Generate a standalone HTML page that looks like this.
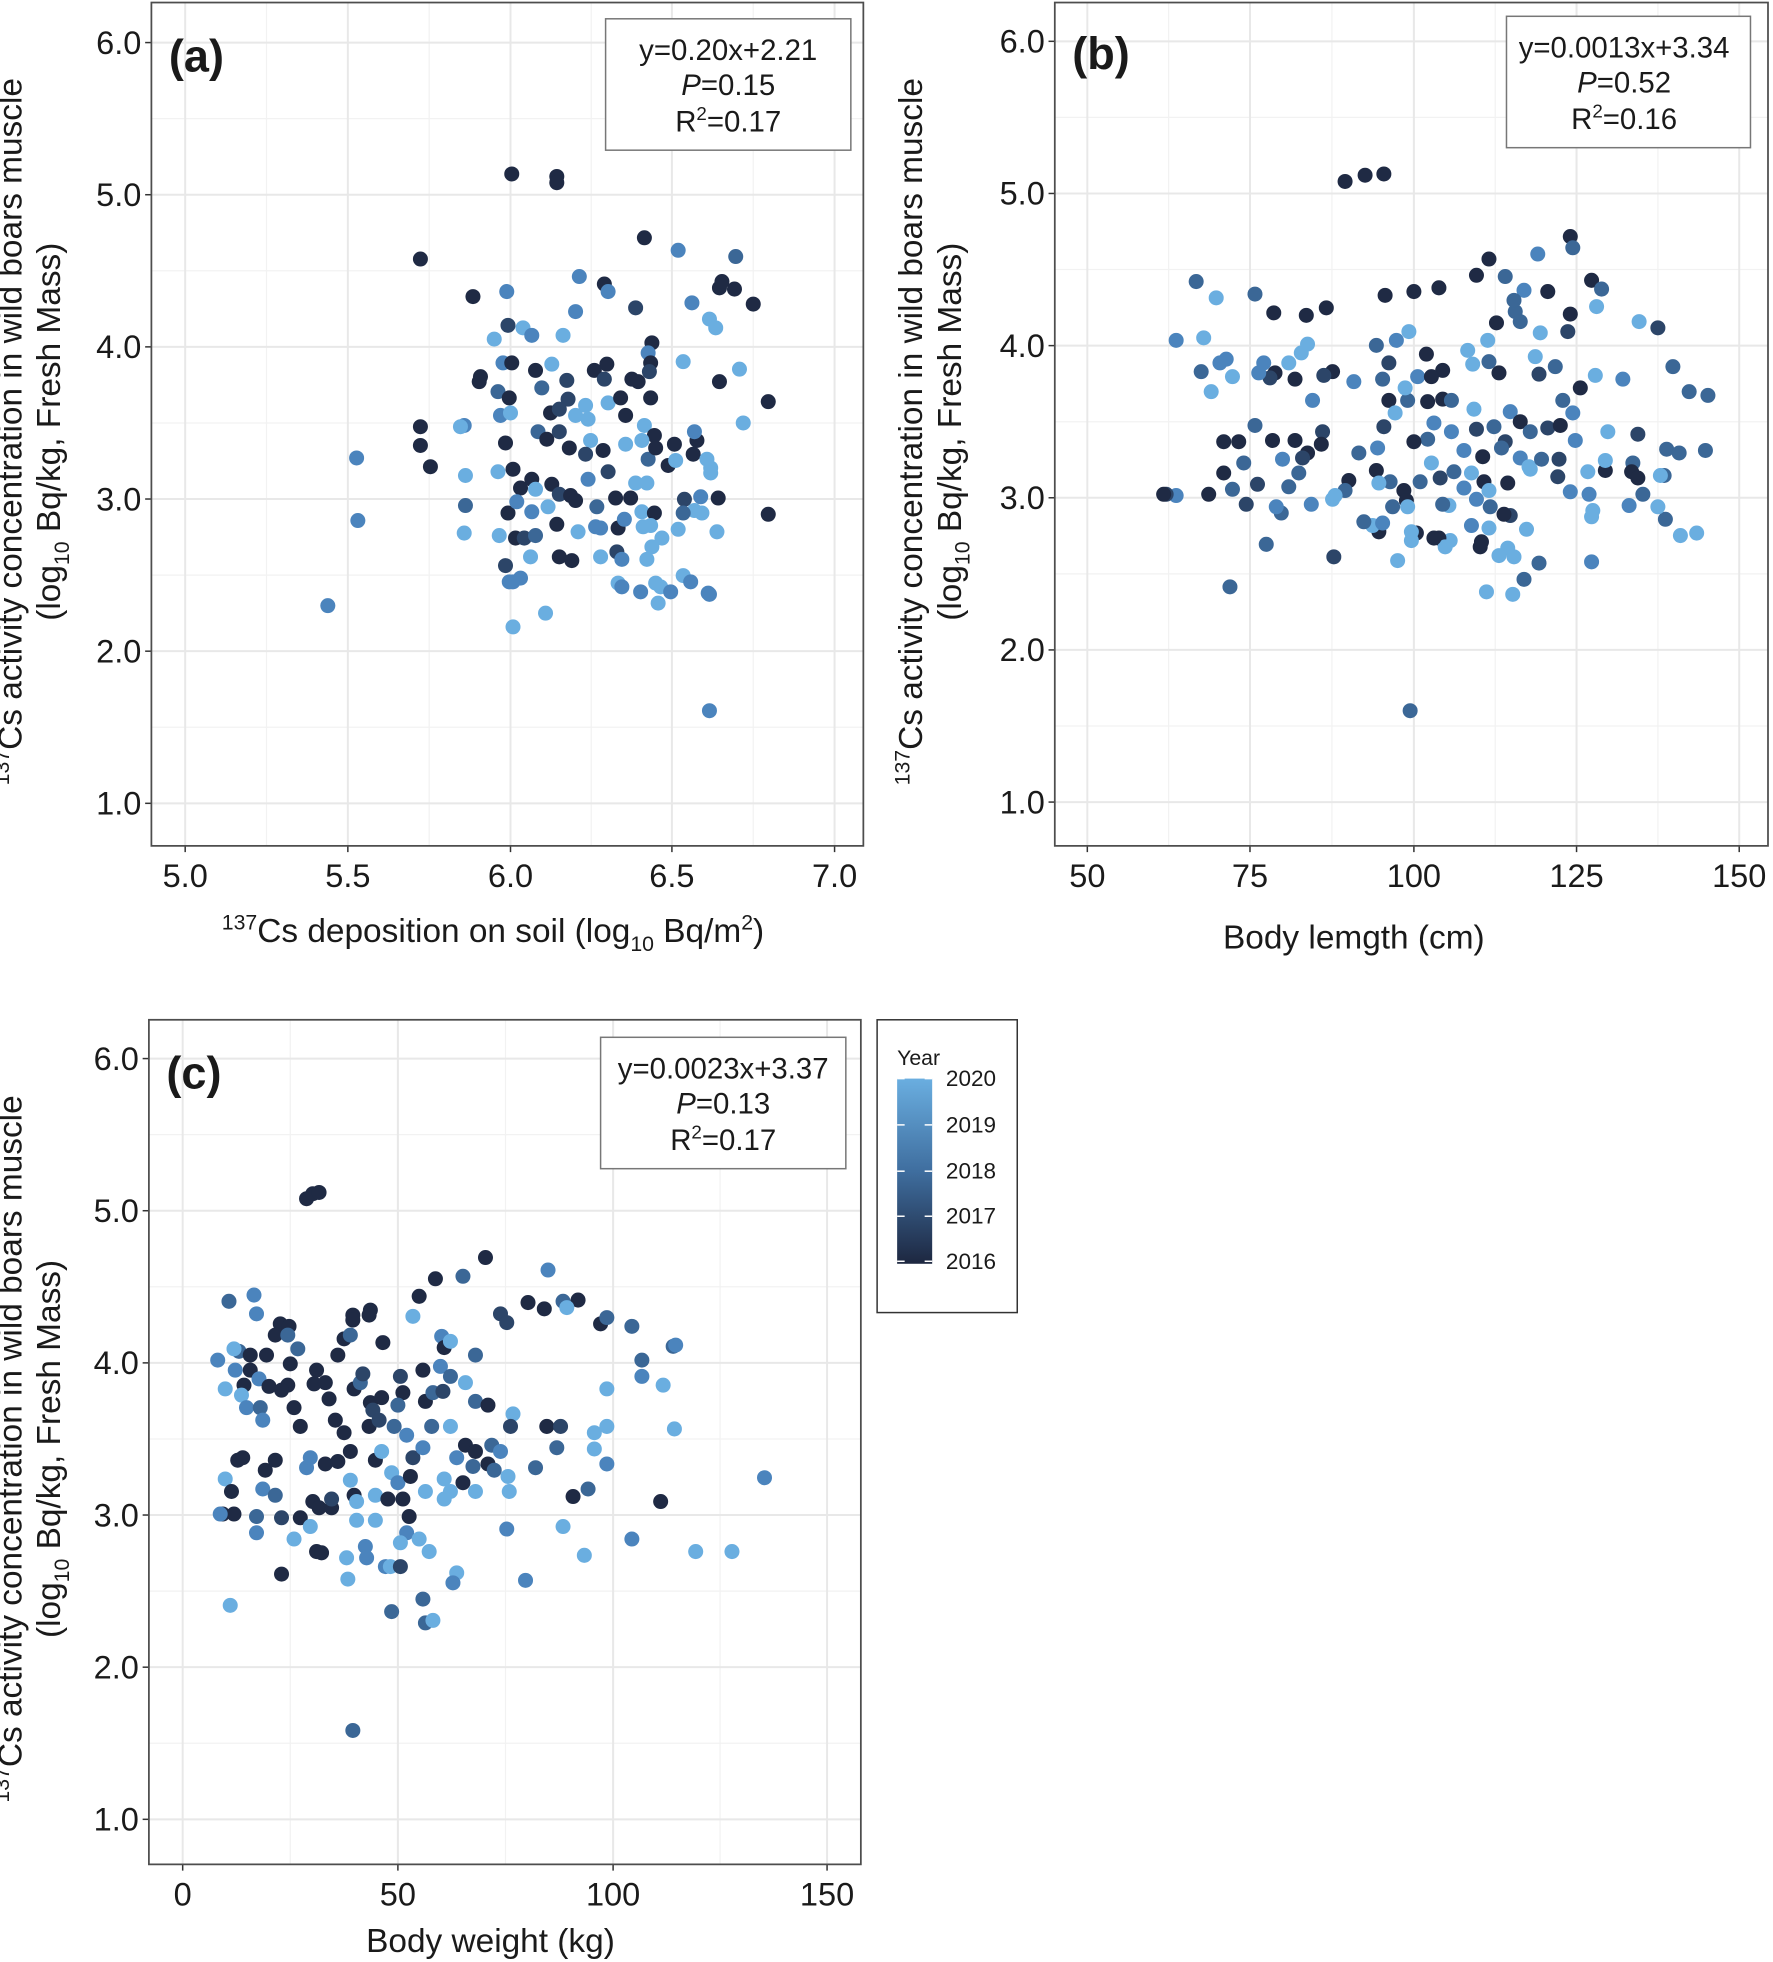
<!DOCTYPE html>
<html><head><meta charset="utf-8"><style>
html,body{margin:0;padding:0;background:#fff;}
svg{display:block;}
text{font-family:"Liberation Sans",Arial,sans-serif;fill:#1a1a1a;}
</style></head><body>
<svg id="s" width="1773" height="1962" viewBox="0 0 1417 1568" xmlns="http://www.w3.org/2000/svg">
<defs><linearGradient id="g" x1="0" y1="0" x2="0" y2="1"><stop offset="0" stop-color="#6aaee0"/><stop offset="0.5" stop-color="#3f6e9f"/><stop offset="1" stop-color="#1d2740"/></linearGradient></defs>
<g id="grid"></g><g id="pts"></g>
<g id="txt">
<text x="135" y="57" font-size="36" font-weight="bold">(a)</text>
<rect x="484" y="15" width="196" height="105" fill="#fff" stroke="#777" stroke-width="1.2"/>
<text x="582" y="48" font-size="23.5" text-anchor="middle">y=0.20x+2.21</text>
<text x="582" y="76" font-size="23.5" text-anchor="middle"><tspan font-style="italic">P</tspan>=0.15</text>
<text x="582" y="105" font-size="23.5" text-anchor="middle">R<tspan font-size="15" dy="-9">2</tspan><tspan dy="9">=0.17</tspan></text>
<text x="394" y="753" font-size="26.7" text-anchor="middle"><tspan font-size="17" dy="-10">137</tspan><tspan dy="10">Cs deposition on soil (log</tspan><tspan font-size="17" dy="7">10</tspan><tspan dy="-7"> Bq/m</tspan><tspan font-size="17" dy="-10">2</tspan><tspan dy="10">)</tspan></text>
<text x="857" y="55" font-size="36" font-weight="bold">(b)</text>
<rect x="1204" y="13" width="195" height="105" fill="#fff" stroke="#777" stroke-width="1.2"/>
<text x="1298" y="46" font-size="23.5" text-anchor="middle">y=0.0013x+3.34</text>
<text x="1298" y="74" font-size="23.5" text-anchor="middle"><tspan font-style="italic">P</tspan>=0.52</text>
<text x="1298" y="103" font-size="23.5" text-anchor="middle">R<tspan font-size="15" dy="-9">2</tspan><tspan dy="9">=0.16</tspan></text>
<text x="1082" y="758" font-size="26.7" text-anchor="middle">Body lemgth (cm)</text>
<text x="133" y="870" font-size="36" font-weight="bold">(c)</text>
<rect x="480" y="829" width="196" height="105" fill="#fff" stroke="#777" stroke-width="1.2"/>
<text x="578" y="862" font-size="23.5" text-anchor="middle">y=0.0023x+3.37</text>
<text x="578" y="890" font-size="23.5" text-anchor="middle"><tspan font-style="italic">P</tspan>=0.13</text>
<text x="578" y="919" font-size="23.5" text-anchor="middle">R<tspan font-size="15" dy="-9">2</tspan><tspan dy="9">=0.17</tspan></text>
<text x="392" y="1560" font-size="26.7" text-anchor="middle">Body weight (kg)</text>
<rect x="701" y="815" width="112" height="234" fill="#fff" stroke="#333" stroke-width="1.2"/>
<text x="717" y="851" font-size="17">Year</text>
<rect x="717" y="862" width="28" height="148" fill="url(#g)"/>
<g stroke="#fff" stroke-width="1.2">
<line x1="717" y1="862" x2="723" y2="862"/><line x1="739" y1="862" x2="745" y2="862"/>
<line x1="717" y1="899" x2="723" y2="899"/><line x1="739" y1="899" x2="745" y2="899"/>
<line x1="717" y1="936" x2="723" y2="936"/><line x1="739" y1="936" x2="745" y2="936"/>
<line x1="717" y1="972" x2="723" y2="972"/><line x1="739" y1="972" x2="745" y2="972"/>
<line x1="717" y1="1008" x2="723" y2="1008"/><line x1="739" y1="1008" x2="745" y2="1008"/>
</g>
<text x="756" y="868" font-size="18">2020</text>
<text x="756" y="905" font-size="18">2019</text>
<text x="756" y="942" font-size="18">2018</text>
<text x="756" y="978" font-size="18">2017</text>
<text x="756" y="1014" font-size="18">2016</text>
</g>
</svg>
<script>
var NS="http://www.w3.org/2000/svg",grid=document.getElementById('grid'),pts=document.getElementById('pts'),txt=document.getElementById('txt');
function el(p,t,a,s){var e=document.createElementNS(NS,t);for(var k in a)e.setAttribute(k,a[k]);if(s!==undefined)e.textContent=s;p.appendChild(e);return e;}
function ylabel(cx,cy){
 var t=el(txt,'text',{transform:'translate('+cx+','+cy+') rotate(-90)','font-size':26.7,'text-anchor':'middle'});
 t.innerHTML='<tspan font-size="17" dy="-10">137</tspan><tspan dy="10">Cs activity concentration in wild boars muscle</tspan>';
 var t2=el(txt,'text',{transform:'translate('+(cx+31)+','+cy+') rotate(-90)','font-size':26.7,'text-anchor':'middle'});
 t2.innerHTML='(log<tspan font-size="17" dy="7">10</tspan><tspan dy="-7"> Bq/kg, Fresh Mass)</tspan>';
}
function panel(L,R,T,B,xt,xlab,y6,y1){
 var py=(y1-y6)/5;
 for(var i=0;i<xt.length-1;i++){var m=(xt[i]+xt[i+1])/2;el(grid,'line',{x1:m,x2:m,y1:T,y2:B,stroke:'#f2f2f2','stroke-width':1});}
 for(var j=0;j<5;j++){var m=y6+py*(j+0.5);el(grid,'line',{x1:L,x2:R,y1:m,y2:m,stroke:'#f2f2f2','stroke-width':1});}
 var mm=y1+py/2; if(mm<B) el(grid,'line',{x1:L,x2:R,y1:mm,y2:mm,stroke:'#f2f2f2','stroke-width':1});
 xt.forEach(function(x,i){el(grid,'line',{x1:x,x2:x,y1:T,y2:B,stroke:'#e8e8e8','stroke-width':1.6});
  el(grid,'line',{x1:x,x2:x,y1:B,y2:B+5,stroke:'#333','stroke-width':1.2});
  el(txt,'text',{x:x,y:B+33,'font-size':26,'text-anchor':'middle'},xlab[i]);});
 for(var k=0;k<6;k++){var y=y6+py*k;el(grid,'line',{x1:L,x2:R,y1:y,y2:y,stroke:'#e8e8e8','stroke-width':1.6});
  el(grid,'line',{x1:L-5,x2:L,y1:y,y2:y,stroke:'#333','stroke-width':1.2});
  el(txt,'text',{x:L-8,y:y+9,'font-size':26,'text-anchor':'end'},(6-k).toFixed(1));}
 el(txt,'rect',{x:L,y:T,width:R-L,height:B-T,fill:'none',stroke:'#4d4d4d','stroke-width':1.4});
}
panel(121,690,2,676,[148,278,408,537,667],['5.0','5.5','6.0','6.5','7.0'],34,642);
panel(843,1413,2,676,[869,999,1130,1260,1390],['50','75','100','125','150'],33,641);
panel(119,688,815,1490,[146,318,490,661],['0','50','100','150'],846,1454);
ylabel(17,345);ylabel(737,345);ylabel(17,1158);
var C=['#1f2a44','#2c4568','#3b6796','#4b84bd','#6aaee0'];
var A=[[409,139,0],[445,141,0],[445,146,0],[515,190,0],[542,200,3],[588,205,2],[575,230,0],[463,221,3],[336,207,0],[378,237,0],[405,233,3],[483,227,0],[486,233,3],[460,249,3],[508,246,1],[553,242,3],[567,255,4],[572,262,4],[602,243,0],[577,225,0],[587,231,0],[406,260,1],[395,271,4],[418,262,4],[425,268,3],[450,268,4],[521,274,0],[518,282,3],[485,291,0],[520,290,0],[519,297,1],[546,289,4],[575,305,0],[591,295,4],[614,321,0],[384,301,0],[383,305,0],[402,290,3],[409,290,0],[428,296,0],[441,291,4],[453,304,1],[475,296,0],[483,303,1],[505,303,0],[510,305,0],[520,318,0],[398,313,2],[407,318,0],[433,310,2],[454,319,1],[468,324,4],[486,322,4],[496,318,0],[400,332,3],[408,330,4],[430,345,2],[440,330,0],[447,327,1],[460,332,4],[470,335,4],[500,332,0],[515,340,4],[523,348,0],[371,340,3],[336,341,0],[336,356,0],[368,341,4],[404,354,0],[437,351,0],[447,345,1],[455,358,0],[472,352,4],[468,363,1],[482,360,0],[500,355,4],[513,352,4],[518,367,2],[524,358,0],[539,355,0],[557,352,0],[554,363,0],[568,374,4],[555,345,3],[594,338,4],[344,373,0],[372,380,4],[398,377,4],[410,375,0],[416,390,0],[425,383,0],[428,391,4],[441,387,0],[447,395,1],[456,396,0],[470,383,3],[486,377,1],[492,398,0],[508,386,4],[517,386,4],[534,372,0],[540,368,4],[574,398,0],[565,367,4],[568,378,4],[406,410,0],[413,401,3],[425,409,3],[438,405,4],[460,400,0],[477,405,2],[480,422,3],[504,398,0],[513,409,4],[523,410,0],[547,399,1],[555,408,4],[614,411,0],[372,404,2],[399,428,4],[412,430,0],[419,430,1],[428,428,2],[445,419,0],[462,425,4],[476,421,3],[494,422,0],[499,415,3],[514,421,4],[520,420,4],[529,430,4],[546,410,2],[561,410,4],[404,452,1],[416,462,3],[424,445,4],[447,445,0],[457,448,0],[480,445,4],[493,441,1],[497,447,3],[517,447,4],[521,437,4],[542,423,4],[410,501,4],[436,490,4],[407,465,3],[410,465,3],[512,473,3],[524,466,4],[528,469,4],[494,466,4],[497,469,3],[536,473,3],[546,460,4],[552,465,3],[573,425,4],[566,474,3],[560,397,3],[285,366,3],[286,416,3],[262,484,3],[526,482,4],[567,475,3],[567,568,3],[371,426,4]];
var Bp=[[1106,139,0],[1091,140,0],[1075,145,0],[956,225,2],[972,238,4],[1003,235,2],[1018,250,0],[1044,252,0],[1060,246,0],[1150,230,0],[1130,233,0],[1107,236,0],[1190,207,0],[1180,220,0],[1203,221,2],[1229,203,3],[1255,189,0],[1257,198,2],[1272,224,0],[1276,245,4],[1280,231,2],[1255,251,0],[1237,233,0],[1218,232,3],[1211,249,2],[1215,257,2],[1210,240,2],[1231,266,4],[1253,265,1],[1310,257,4],[1325,262,1],[1337,293,2],[1297,303,3],[1275,300,4],[1263,310,0],[1249,320,2],[1230,299,1],[1227,285,4],[1243,293,2],[1196,258,0],[1189,272,4],[1190,289,2],[1198,298,0],[1177,291,4],[1153,296,0],[1153,319,0],[1160,320,2],[1141,321,0],[1133,301,3],[1144,301,0],[1125,320,2],[1105,303,2],[1110,320,0],[1082,305,3],[1065,297,0],[1058,300,1],[1049,320,3],[1035,303,0],[1019,298,0],[1015,302,1],[1006,298,3],[985,301,4],[980,287,3],[975,290,3],[960,297,2],[968,313,4],[1010,290,3],[1030,290,4],[1040,282,4],[1045,275,4],[1100,276,2],[1110,290,1],[1116,272,3],[1123,310,4],[1126,265,4],[1140,283,0],[1173,280,4],[1178,327,4],[1180,343,1],[1194,341,2],[1207,329,3],[1215,337,0],[1223,345,2],[1237,342,1],[1247,340,0],[1257,330,3],[1259,352,3],[1285,345,4],[1309,347,1],[1332,359,2],[1305,370,2],[1304,377,0],[1309,382,0],[1330,380,2],[1313,395,2],[1302,404,3],[1269,377,4],[1246,367,1],[1223,375,4],[1215,366,3],[1203,353,1],[1200,358,2],[1185,365,0],[1176,378,4],[1170,360,3],[1160,345,3],[1146,338,3],[1141,351,2],[1130,353,0],[1115,330,4],[1106,341,1],[1101,358,3],[1144,370,4],[1162,377,2],[1151,382,1],[1135,385,2],[1122,392,0],[1111,385,2],[1078,384,0],[1075,392,2],[1057,345,1],[1056,355,0],[1045,362,0],[1035,352,0],[1017,352,0],[1003,340,2],[990,353,0],[978,353,0],[978,378,0],[966,395,0],[994,370,2],[1025,367,3],[1041,366,1],[1005,387,1],[1030,389,2],[1038,378,2],[1067,396,4],[1086,362,2],[1100,376,0],[1102,386,4],[1124,400,0],[1125,405,4],[1158,404,4],[1153,403,2],[1170,390,3],[1180,399,3],[1186,385,0],[1190,392,4],[1191,405,2],[1205,386,0],[1222,373,4],[1232,367,2],[1245,381,1],[1255,393,3],[1270,395,3],[1283,376,0],[1283,368,4],[1327,380,4],[1342,362,2],[1356,426,4],[1343,428,4],[1331,415,2],[1325,405,4],[1273,408,4],[1272,413,4],[1220,423,4],[1207,412,1],[1190,422,4],[1176,420,3],[1159,432,4],[1150,430,0],[1132,426,0],[1128,425,4],[1102,425,0],[1097,420,4],[1113,405,2],[1105,418,3],[1090,417,2],[1065,399,4],[1048,403,3],[1024,410,2],[1020,405,3],[996,403,1],[985,391,2],[940,396,3],[1012,435,2],[1066,445,1],[1117,448,4],[1128,432,4],[1155,437,4],[1183,437,0],[1205,438,4],[1210,445,4],[1198,444,4],[1188,473,4],[1218,463,2],[1209,475,4],[1230,450,2],[1272,449,3],[1184,433,0],[1202,411,0],[1146,430,0],[983,469,2],[1127,568,2],[932,395,1],[940,272,3],[962,270,4],[930,395,0],[1363,360,2],[1350,313,2],[1365,316,2]];
var Cp=[[245,958,0],[250,954,0],[255,953,0],[348,1022,0],[335,1036,0],[388,1005,0],[370,1020,2],[438,1015,3],[462,1039,0],[422,1041,0],[435,1046,0],[450,1040,2],[282,1051,0],[296,1047,0],[295,1051,0],[282,1055,0],[183,1040,2],[203,1035,3],[205,1050,3],[224,1058,0],[220,1067,0],[231,1060,0],[230,1067,2],[174,1087,3],[191,1080,2],[187,1078,4],[200,1083,0],[213,1083,0],[232,1090,0],[238,1078,2],[270,1083,0],[275,1070,0],[280,1067,2],[306,1073,0],[330,1052,4],[353,1068,3],[355,1077,0],[360,1072,4],[380,1083,2],[400,1050,1],[405,1057,1],[453,1045,4],[480,1058,0],[485,1053,2],[505,1060,2],[513,1087,2],[538,1076,2],[188,1095,3],[200,1095,0],[207,1102,3],[195,1107,0],[215,1108,0],[230,1107,0],[225,1111,0],[251,1106,0],[253,1095,0],[260,1105,0],[283,1110,0],[288,1105,2],[290,1098,1],[320,1100,1],[338,1095,0],[352,1092,3],[360,1100,2],[372,1105,4],[322,1113,0],[340,1120,0],[346,1113,2],[354,1112,1],[296,1121,0],[298,1127,1],[305,1117,0],[318,1123,2],[380,1120,2],[390,1123,0],[410,1130,4],[408,1140,1],[437,1140,0],[485,1140,4],[475,1145,4],[513,1100,3],[485,1110,4],[448,1140,1],[530,1107,4],[180,1110,4],[193,1115,4],[197,1125,3],[208,1125,2],[210,1135,3],[235,1125,0],[240,1140,0],[263,1118,0],[268,1135,0],[275,1145,0],[280,1160,0],[295,1140,0],[303,1135,1],[315,1140,2],[325,1147,3],[330,1165,1],[338,1157,3],[345,1140,2],[360,1140,4],[365,1165,3],[372,1155,0],[380,1160,0],[390,1170,0],[393,1155,2],[395,1175,2],[400,1160,3],[406,1180,4],[428,1173,2],[445,1157,2],[475,1158,4],[485,1170,3],[190,1167,0],[194,1165,0],[212,1175,0],[220,1167,0],[245,1173,3],[248,1165,3],[260,1170,0],[270,1168,0],[300,1167,0],[305,1160,4],[313,1177,4],[318,1185,3],[328,1180,0],[355,1182,4],[360,1192,4],[370,1185,0],[378,1172,2],[180,1182,4],[185,1192,0],[210,1190,3],[220,1195,2],[250,1200,0],[255,1205,0],[265,1205,0],[283,1195,0],[280,1183,4],[285,1200,4],[300,1195,4],[310,1198,0],[322,1198,0],[327,1212,0],[340,1192,4],[355,1198,4],[380,1192,4],[407,1192,4],[458,1196,0],[470,1190,2],[178,1210,0],[187,1210,0],[205,1212,2],[225,1213,1],[240,1213,0],[265,1198,1],[285,1215,4],[300,1215,4],[325,1225,3],[248,1220,4],[235,1230,4],[205,1225,3],[253,1240,0],[257,1241,0],[292,1236,3],[320,1233,4],[335,1230,4],[343,1240,4],[405,1222,3],[450,1220,4],[467,1243,4],[505,1230,3],[556,1240,4],[277,1245,4],[293,1245,3],[308,1252,3],[278,1262,4],[312,1252,4],[320,1252,1],[365,1257,4],[362,1265,3],[225,1258,0],[338,1278,2],[420,1263,3],[313,1288,2],[340,1297,2],[346,1295,4],[184,1283,4],[282,1383,2],[528,1200,0],[539,1142,4],[540,1075,3],[611,1181,3],[585,1240,4],[176,1210,3]];
[A,Bp,Cp].forEach(function(arr){arr.forEach(function(p){el(pts,'circle',{cx:p[0],cy:p[1],r:6,fill:C[p[2]]});});});
</script>
</body></html>
